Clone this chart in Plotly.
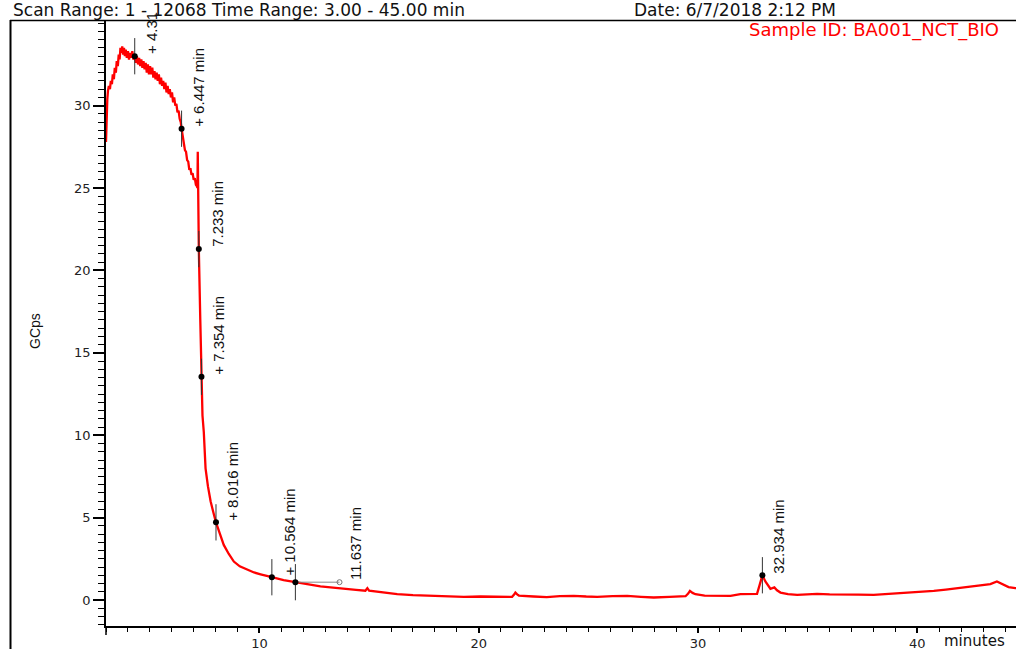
import plotly.graph_objects as go

W, H = 1016, 651

# ---------------- data ----------------
time_min = [
    3.00, 3.03, 3.06, 3.09, 3.13, 3.18, 3.22, 3.27, 3.31, 3.36, 3.40, 3.45, 3.49, 3.54,
    3.58, 3.62, 3.66, 3.70, 3.74, 3.78, 3.82, 3.86, 3.90, 3.95, 4.00, 4.05, 4.10, 4.15,
    4.20, 4.25, 4.31, 4.36, 4.41, 4.46, 4.51, 4.56, 4.61, 4.66, 4.71, 4.76, 4.81, 4.86,
    4.91, 4.96, 5.01, 5.06, 5.11, 5.16, 5.21, 5.26, 5.31, 5.36, 5.41, 5.46, 5.51, 5.56,
    5.61, 5.66, 5.71, 5.76, 5.81, 5.86, 5.91, 5.96, 6.01, 6.06, 6.11, 6.16, 6.21, 6.26,
    6.31, 6.36, 6.41, 6.447, 6.50, 6.55, 6.60, 6.65, 6.70, 6.75, 6.80, 6.85, 6.90, 6.95,
    7.00, 7.05, 7.10, 7.15, 7.17, 7.185, 7.20, 7.233, 7.30, 7.354, 7.40, 7.46, 7.54, 7.65,
    7.77, 7.90, 8.016, 8.20, 8.37, 8.60, 8.83, 9.10, 9.44, 9.75, 10.05, 10.30, 10.564,
    11.10, 11.637, 12.20, 12.78, 13.24, 13.80, 14.40, 14.83, 14.92, 15.00, 15.60, 16.28,
    17.00, 17.65, 18.50, 19.32, 20.08, 20.84, 21.52, 21.62, 21.67, 21.75, 21.83, 22.50,
    23.10, 23.70, 24.33, 24.90, 25.40, 26.10, 26.77, 27.40, 27.98, 28.70, 29.43, 29.55,
    29.63, 29.75, 29.88, 30.30, 30.72, 31.48, 31.93, 32.30, 32.69, 32.81, 32.934, 33.07,
    33.30, 33.48, 33.60, 33.76, 34.10, 34.52, 35.43, 36.00, 36.65, 37.30, 38.01, 38.70,
    39.38, 40.10, 40.75, 41.30, 41.81, 42.40, 42.88, 43.33, 43.63, 43.86, 44.16, 44.47,
    44.60,
]
signal_gcps = [
    27.8, 29.5, 30.4, 30.9, 31.2, 31.0, 31.5, 31.3, 31.9, 31.6, 32.3, 32.0, 32.7, 32.4,
    33.1, 32.8, 33.5, 33.2, 33.6, 33.1, 33.5, 33.0, 33.4, 32.9, 33.3, 32.8, 33.2, 32.9,
    33.3, 32.8, 33.0, 32.6, 33.0, 32.5, 32.9, 32.4, 32.8, 32.3, 32.7, 32.2, 32.6, 32.0,
    32.5, 31.9, 32.4, 31.9, 32.3, 31.7, 32.1, 31.6, 32.0, 31.5, 31.9, 31.3, 31.7, 31.2,
    31.5, 31.0, 31.4, 30.8, 31.2, 30.7, 31.0, 30.5, 30.8, 30.2, 30.5, 30.0, 30.1, 29.6,
    29.7, 29.2, 29.0, 28.6, 28.2, 27.9, 27.3, 27.2, 26.7, 26.6, 26.1, 26.2, 25.8, 25.9,
    25.5, 25.6, 25.2, 25.1, 25.0, 27.2, 24.5, 21.3, 17.0, 13.55, 11.2, 10.2, 8.0, 6.9,
    6.0, 5.3, 4.72, 4.0, 3.35, 2.8, 2.34, 2.05, 1.84, 1.68, 1.57, 1.47, 1.39,
    1.22, 1.09, 0.95, 0.83, 0.77, 0.68, 0.62, 0.57, 0.73, 0.58, 0.46, 0.36,
    0.30, 0.26, 0.23, 0.20, 0.22, 0.20, 0.20, 0.35, 0.46, 0.35, 0.28, 0.22,
    0.18, 0.24, 0.26, 0.22, 0.20, 0.24, 0.26, 0.20, 0.16, 0.20, 0.24, 0.40,
    0.56, 0.44, 0.36, 0.28, 0.26, 0.26, 0.36, 0.37, 0.38, 0.93, 1.51, 1.13,
    0.69, 0.77, 0.60, 0.46, 0.36, 0.32, 0.38, 0.35, 0.36, 0.33, 0.32, 0.37,
    0.42, 0.48, 0.56, 0.64, 0.72, 0.80, 0.89, 0.97, 1.13, 0.97, 0.79, 0.73,
    0.72,
]

peak_times = [4.31, 6.447, 7.233, 7.354, 8.016, 10.564, 11.637, 32.934]
peak_heights = [33.0, 28.6, 21.3, 13.55, 4.72, 1.39, 1.09, 1.51]
peak_labels = ["+ 4.31", "+ 6.447 min", "7.233 min", "+ 7.354 min", "+ 8.016 min",
               "+ 10.564 min", "11.637 min", "32.934 min"]
label_xshift = [16, 17, 18, 17, 17, 18, 60, 16]
connector_end = 13.65

x_ticks = [10, 20, 30, 40]
y_ticks = [0, 5, 10, 15, 20, 25, 30]

header_left = "Scan Range: 1 - 12068 Time Range: 3.00 - 45.00 min"
header_date = "Date: 6/7/2018 2:12 PM"
sample_id = "Sample ID: BA001_NCT_BIO"
y_title = "GCps"
x_title = "minutes"

# ---------------- helpers ----------------
def px(x):
    return x / W


def py(y):
    return 1 - y / H


NARROW = "Liberation Sans Narrow, Arial Narrow, Liberation Sans, Arial, sans-serif"
WIDE = "DejaVu Sans, Verdana, sans-serif"
half_bar = 1.1

fig = go.Figure()

fig.add_trace(go.Scatter(x=time_min, y=signal_gcps, mode="lines",
                         line=dict(color="#ff0000", width=2.3), hoverinfo="skip"))

bx, by = [], []
for t, h in zip(peak_times, peak_heights):
    bx += [t, t, None]
    by += [h - half_bar, h + half_bar, None]
fig.add_trace(go.Scatter(x=bx, y=by, mode="lines", line=dict(color="#333333", width=1),
                         hoverinfo="skip"))

i_conn = peak_labels.index("11.637 min")
fig.add_trace(go.Scatter(x=[peak_times[i_conn], connector_end],
                         y=[peak_heights[i_conn], peak_heights[i_conn]],
                         mode="lines", line=dict(color="#888888", width=1), hoverinfo="skip"))
fig.add_trace(go.Scatter(x=[connector_end], y=[peak_heights[i_conn]], mode="markers",
                         marker=dict(symbol="circle-open", size=5, color="#777777",
                                     line=dict(width=1)), hoverinfo="skip"))

fig.add_trace(go.Scatter(x=peak_times, y=peak_heights, mode="markers",
                         marker=dict(color="black", size=6), hoverinfo="skip"))

annotations = []
for t, h, lab, xs in zip(peak_times, peak_heights, peak_labels, label_xshift):
    annotations.append(dict(x=t, y=h, xref="x", yref="y", text=lab, showarrow=False,
                            textangle=-90, xanchor="center", yanchor="bottom",
                            xshift=xs, yshift=1, borderpad=0,
                            font=dict(family=NARROW, size=15, color="#111111")))

annotations += [
    dict(x=px(12), y=py(21), xref="paper", yref="paper", text=header_left, showarrow=False,
         xanchor="left", yanchor="bottom", borderpad=0,
         font=dict(family=WIDE, size=17, color="#111111")),
    dict(x=px(633), y=py(21), xref="paper", yref="paper", text=header_date, showarrow=False,
         xanchor="left", yanchor="bottom", borderpad=0,
         font=dict(family=WIDE, size=17, color="#111111")),
    dict(x=px(1000), y=py(30), xref="paper", yref="paper", text=sample_id, showarrow=False,
         xanchor="right", yanchor="middle", borderpad=0,
         font=dict(family=WIDE, size=18, color="#ff0000")),
    dict(x=px(35), y=py(332), xref="paper", yref="paper", text=y_title, showarrow=False,
         textangle=-90, xanchor="center", yanchor="middle", borderpad=0,
         font=dict(family=NARROW, size=14, color="#111111")),
    dict(x=px(943), y=py(643), xref="paper", yref="paper", text=x_title, showarrow=False,
         xanchor="left", yanchor="middle", borderpad=0,
         font=dict(family=WIDE, size=15, color="#111111")),
]

shapes = [
    dict(type="line", xref="paper", yref="paper", x0=px(10), x1=1, y0=py(20.5), y1=py(20.5),
         line=dict(color="black", width=1.5)),
    dict(type="line", xref="paper", yref="paper", x0=px(10.5), x1=px(10.5), y0=py(20), y1=0,
         line=dict(color="black", width=2)),
    dict(type="line", xref="paper", yref="paper", x0=px(106), x1=px(106), y0=py(628), y1=py(637),
         line=dict(color="black", width=1.5)),
]

fig.update_layout(
    width=W, height=H, margin=dict(l=0, r=0, t=0, b=0),
    paper_bgcolor="white", plot_bgcolor="white", showlegend=False,
    annotations=annotations, shapes=shapes,
    xaxis=dict(domain=[px(106), 1], range=[3.0, 44.5], showgrid=False, zeroline=False,
               showline=True, linecolor="black", linewidth=1.5, anchor="y",
               tickmode="array", tickvals=x_ticks, ticks="outside", ticklen=5,
               tickwidth=1.5, tickcolor="black",
               minor=dict(tick0=0, dtick=1, ticks="outside", ticklen=4, tickcolor="black",
                          tickwidth=1),
               tickfont=dict(family=WIDE, size=13, color="#222222")),
    yaxis=dict(domain=[py(628), py(20)], range=[-1.573, 35.2], showgrid=False, zeroline=False,
               showline=True, linecolor="black", linewidth=1.5, anchor="x",
               tickmode="array", tickvals=y_ticks, ticks="outside", ticklen=11,
               tickwidth=1.5, tickcolor="black",
               minor=dict(tick0=0, dtick=0.5, ticks="outside", ticklen=6, tickcolor="black",
                          tickwidth=1),
               tickfont=dict(family=WIDE, size=13, color="#222222")),
)

fig.write_html("out.html", config={"displayModeBar": False},
               post_script="document.body.style.margin='0';document.body.style.overflow='hidden';")
